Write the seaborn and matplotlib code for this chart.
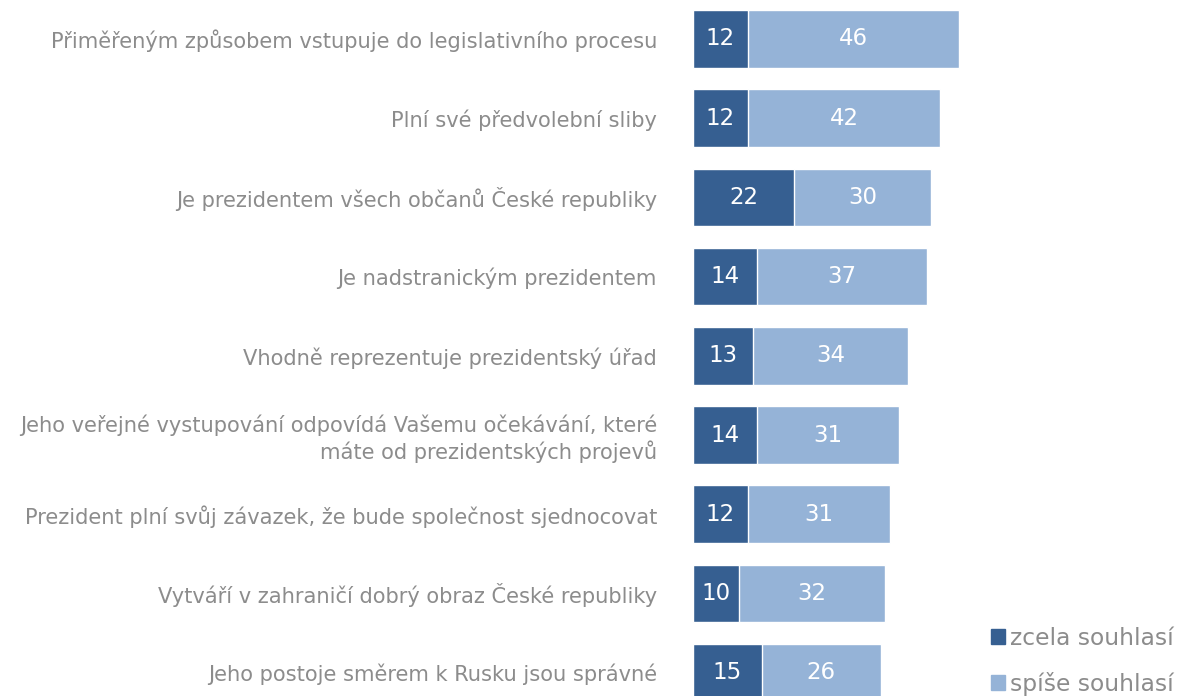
import matplotlib
matplotlib.use('Agg')
import matplotlib.pyplot as plt
import seaborn as sns
import pandas as pd
from matplotlib.patches import Patch

# survey statements (top to bottom)
statements = [
    'Přiměřeným způsobem vstupuje do legislativního procesu',
    'Plní své předvolební sliby',
    'Je prezidentem všech občanů České republiky',
    'Je nadstranickým prezidentem',
    'Vhodně reprezentuje prezidentský úřad',
    'Jeho veřejné vystupování odpovídá Vašemu očekávání, které\nmáte od prezidentských projevů',
    'Prezident plní svůj závazek, že bude společnost sjednocovat',
    'Vytváří v zahraničí dobrý obraz České republiky',
    'Jeho postoje směrem k Rusku jsou správné',
]
zcela = [12, 12, 22, 14, 13, 14, 12, 10, 15]
spise = [46, 42, 30, 37, 34, 31, 31, 32, 26]
legend_labels = ['zcela souhlasí', 'spíše souhlasí']

dark = '#365f91'
light = '#95b3d7'
grey = '#8c8c8c'

df = pd.DataFrame({'statement': statements, 'zcela': zcela, 'spise': spise})
df['total'] = df['zcela'] + df['spise']

sns.set_style('white')
plt.rcParams['font.family'] = ['DejaVu Sans']

fig = plt.figure(figsize=(11.78, 6.96), dpi=100)
ax = fig.add_axes([693 / 1178, 0, 485 / 1178, 1])

# stacked: draw total first, then the dark segment on top
sns.barplot(data=df, x='total', y='statement', color=light, width=0.726,
            saturation=1, ax=ax, orient='h')
sns.barplot(data=df, x='zcela', y='statement', color=dark, width=0.726,
            saturation=1, ax=ax, orient='h')

for i, (a, b) in enumerate(zip(zcela, spise)):
    ax.text(a / 2, i, str(a), color='white', ha='center', va='center', fontsize=16.5)
    ax.text(a + b / 2, i, str(b), color='white', ha='center', va='center', fontsize=16.5)

ax.set_xlim(0, 485 / 4.58)
ax.set_ylim(8.295, -0.492)
ax.set_xlabel('')
ax.set_ylabel('')
ax.set_xticks([])
ax.tick_params(axis='y', length=0, pad=26, labelsize=15.1, labelcolor=grey)
sns.despine(ax=ax, left=True, bottom=True)

handles = [Patch(color=dark), Patch(color=light)]
fig.legend(handles, legend_labels, loc='lower right', bbox_to_anchor=(1.014, -0.03),
           frameon=False, fontsize=16.8, labelcolor=grey, handlelength=0.6,
           handleheight=0.6, handletextpad=0.2, labelspacing=0.95)

fig.savefig('out.png', dpi=100)
